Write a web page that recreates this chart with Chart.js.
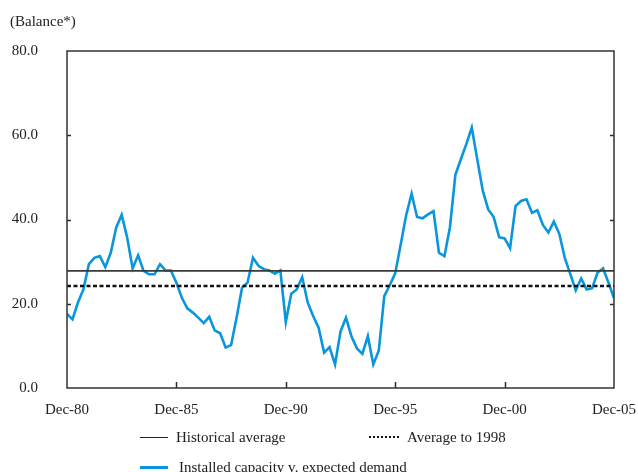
<!DOCTYPE html>
<html>
<head>
<meta charset="utf-8">
<script src="https://cdn.jsdelivr.net/npm/chart.js@4"></script>
<style>
  html, body { margin: 0; padding: 0; background: #fff; overflow: hidden; }
  #wrap { position: relative; width: 638px; height: 472px; overflow: hidden; font-family: 'Liberation Serif', 'Times New Roman', serif; color: #222; }
  canvas { position: absolute; left: 0; top: 0; }
  .txt { position: absolute; font-size: 15px; line-height: 18px; white-space: nowrap; }
  .sw { position: absolute; height: 0; }
</style>
</head>
<body>
<div id="wrap">
  <canvas id="c" width="638" height="472"></canvas>
  <div class="txt" style="left:10px; top:12px;">(Balance*)</div>
  <div class="sw" style="left:140px; width:28px; top:437px; border-top:1.5px solid #222;"></div>
  <div class="txt" style="left:176px; top:428px;">Historical average</div>
  <div class="sw" style="left:369px; width:30px; top:436px; border-top:2.5px dotted #111;"></div>
  <div class="txt" style="left:407px; top:428px;">Average to 1998</div>
  <div class="sw" style="left:140px; width:28px; top:466px; border-top:3px solid #0a96dc;"></div>
  <div class="txt" style="left:179px; top:458px;">Installed capacity v. expected demand</div>
</div>
<script>
// Quarterly observations, Dec-80 (index 0) to Dec-05 (index 100)
const tickLabels = ['Dec-80', 'Dec-85', 'Dec-90', 'Dec-95', 'Dec-00', 'Dec-05'];
const balance = [
  17.6, 16.3, 20.3, 23.4, 29.4, 30.9, 31.3, 28.7, 32.1, 38.1,
  41.1, 35.7, 28.4, 31.5, 27.8, 27.0, 27.0, 29.4, 27.9, 27.9,
  25.0, 21.4, 18.9, 17.9, 16.7, 15.4, 16.9, 13.7, 13.0, 9.6,
  10.2, 16.7, 23.8, 25.0, 30.9, 29.0, 28.2, 27.9, 27.1, 27.9,
  15.7, 22.4, 23.4, 26.3, 20.3, 17.1, 14.3, 8.4, 9.7, 5.6,
  13.4, 16.7, 12.3, 9.4, 8.1, 12.3, 5.6, 8.9, 21.8, 24.4,
  27.2, 34.0, 41.0, 46.1, 40.6, 40.3, 41.2, 42.0, 32.1, 31.3,
  38.1, 50.6, 54.3, 57.9, 61.8, 54.3, 46.9, 42.4, 40.6, 35.8,
  35.5, 33.2, 43.2, 44.4, 44.8, 41.6, 42.2, 38.7, 36.9, 39.5,
  36.6, 30.9, 27.1, 23.2, 26.0, 23.4, 23.7, 27.4, 28.4, 25.0,
  21.3
];
const historicalAverage = 27.8;
const averageTo1998 = 24.2;
const firstQuarter = 0;
const lastQuarter = 100;

const mainSeries = balance.map((v, i) => ({ x: i, y: v }));
const histSeries = [{ x: firstQuarter, y: historicalAverage }, { x: lastQuarter, y: historicalAverage }];
const avg98Series = [{ x: firstQuarter, y: averageTo1998 }, { x: lastQuarter, y: averageTo1998 }];

const serif = "'Liberation Serif', 'Times New Roman', serif";

const frame = {
  id: 'frame',
  afterDatasetsDraw(chart) {
    const { ctx, chartArea: a, scales } = chart;
    ctx.save();
    ctx.strokeStyle = '#2a2a2a';
    ctx.lineWidth = 1.5;
    ctx.beginPath();
    [20, 40, 60].forEach(v => {
      const y = Math.round(scales.y.getPixelForValue(v)) + 0.5;
      ctx.moveTo(a.left, y); ctx.lineTo(a.left + 4, y);
      ctx.moveTo(a.right, y); ctx.lineTo(a.right - 4, y);
    });
    [20, 40, 60, 80].forEach(v => {
      const x = Math.round(scales.x.getPixelForValue(v)) + 0.5;
      ctx.moveTo(x, a.bottom); ctx.lineTo(x, a.bottom - 6);
    });
    ctx.stroke();
    ctx.strokeStyle = '#333';
    ctx.lineWidth = 1.5;
    ctx.strokeRect(a.left, a.top, a.right - a.left, a.bottom - a.top);
    ctx.restore();
  }
};

new Chart(document.getElementById('c'), {
  type: 'line',
  data: {
    datasets: [
      { label: 'Historical average', data: histSeries, borderColor: '#3a3a3a', borderWidth: 1.6, pointRadius: 0 },
      { label: 'Average to 1998', data: avg98Series, borderColor: '#111', borderWidth: 2.4, borderDash: [4, 2.5], pointRadius: 0 },
      { label: 'Installed capacity v. expected demand', data: mainSeries, borderColor: '#0a96dc', borderWidth: 2.6, pointRadius: 0, tension: 0 }
    ]
  },
  options: {
    responsive: false,
    devicePixelRatio: 1,
    animation: false,
    layout: { padding: { top: 51, right: 24, left: 0, bottom: 0 } },
    plugins: { legend: { display: false }, tooltip: { enabled: false } },
    scales: {
      x: {
        type: 'linear', min: firstQuarter, max: lastQuarter,
        grid: { display: false, drawTicks: false }, border: { display: false },
        ticks: {
          stepSize: 20, autoSkip: false, maxRotation: 0, padding: 13,
          color: '#222', font: { family: serif, size: 15 },
          callback: v => tickLabels[v / 20] ?? ''
        },
        afterFit: s => { s.height = 84; s.paddingLeft = 0; s.paddingRight = 0; }
      },
      y: {
        min: 0, max: 80,
        grid: { display: false, drawTicks: false }, border: { display: false },
        ticks: {
          stepSize: 20, padding: 29,
          color: '#222', font: { family: serif, size: 15 },
          callback: v => Number(v).toFixed(1)
        },
        afterFit: s => { s.width = 67; s.paddingTop = 0; s.paddingBottom = 0; }
      }
    }
  },
  plugins: [frame]
});
</script>
</body>
</html>
